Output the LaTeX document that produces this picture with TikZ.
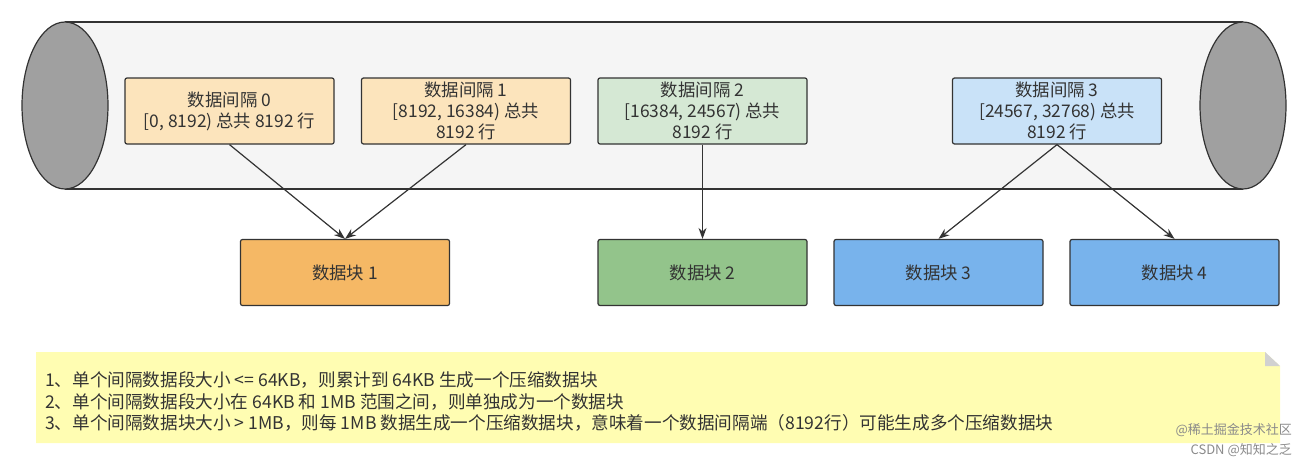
\documentclass[tikz,border=0pt]{standalone}
\usepackage{fontspec}
\setmainfont{Noto Sans CJK SC}
\usetikzlibrary{arrows.meta,shapes.geometric}
\definecolor{txt}{HTML}{333333}
\definecolor{lnc}{HTML}{333333}
\definecolor{cylbody}{HTML}{F5F5F5}
\definecolor{cylend}{HTML}{A0A0A0}
\definecolor{orL}{HTML}{FCE4BC}
\definecolor{grL}{HTML}{D5E8D4}
\definecolor{blL}{HTML}{C9E2F8}
\definecolor{orD}{HTML}{F5B865}
\definecolor{grD}{HTML}{93C48B}
\definecolor{blD}{HTML}{78B3EC}
\definecolor{note}{HTML}{FFFDB2}
\definecolor{wm}{HTML}{8A8A8A}
\begin{document}
\begin{tikzpicture}[x=1pt,y=-1pt,
  box/.style={draw=lnc,line width=1.2pt,rounded corners=2pt,minimum width=209pt,minimum height=66pt,inner sep=0pt,align=center,text=txt,font=\fontsize{17.4}{21}\selectfont},
  arr/.style={-{Stealth[length=11pt,width=8pt]},draw=lnc,line width=1.2pt}]
\useasboundingbox (0,0) rectangle (1308,466);
% cylinder
\path[fill=cylbody] (65,22) rectangle (1243,189);
\draw[lnc,line width=1.2pt] (65,22) -- (1243,22) (65,189) -- (1243,189);
\node[draw=lnc,line width=1.2pt,fill=cylend,ellipse,minimum width=86pt,minimum height=167pt,inner sep=0pt] (lend) at (65,105.5) {};
\node[draw=lnc,line width=1.2pt,fill=cylend,ellipse,minimum width=86pt,minimum height=167pt,inner sep=0pt] (rend) at (1243,105.5) {};
% interval boxes
\node[box,fill=orL] (i0) at (229.5,111) {数据间隔 0\\{}[0, 8192) 总共 8192 行};
\node[box,fill=orL] (i1) at (466,111) {数据间隔 1\\{}[8192, 16384) 总共\\8192 行};
\node[box,fill=grL] (i2) at (702.5,111) {数据间隔 2\\{}[16384, 24567) 总共\\8192 行};
\node[box,fill=blL] (i3) at (1057,111) {数据间隔 3\\{}[24567, 32768) 总共\\8192 行};
% blocks
\node[box,fill=orD] (b1) at (345,272.5) {数据块 1};
\node[box,fill=grD] (b2) at (702.5,272.5) {数据块 2};
\node[box,fill=blD] (b3) at (938.5,272.5) {数据块 3};
\node[box,fill=blD] (b4) at (1174.5,272.5) {数据块 4};
% arrows
\draw[arr] (i0.south) -- (b1.north);
\draw[arr] (i1.south) -- (b1.north);
\draw[arr] (i2.south) -- (b2.north);
\draw[arr] (i3.south) -- (b3.north);
\draw[arr] (i3.south) -- (b4.north);
% note
\fill[note] (36,352) -- (1265,352) -- (1280,366) -- (1280,443) -- (36,443) -- cycle;
\fill[black!18] (1265,352) -- (1280,366) -- (1265,366) -- cycle;
\node[anchor=west,inner sep=0pt,align=left,text=txt,font=\fontsize{17.6}{21.5}\selectfont] (nt) at (45,401.5) {1、单个间隔数据段大小 <= 64KB，则累计到 64KB 生成一个压缩数据块\\2、单个间隔数据段大小在 64KB 和 1MB 范围之间，则单独成为一个数据块\\3、单个间隔数据块大小 > 1MB，则每 1MB 数据生成一个压缩数据块，意味着一个数据间隔端（8192行）可能生成多个压缩数据块};
% watermark
\node[anchor=east,inner sep=0pt,text=wm,font=\fontsize{13}{15}\selectfont] (wm1) at (1292,430) {@稀土掘金技术社区};
\node[anchor=east,inner sep=0pt,text=wm,font=\fontsize{13}{15}\selectfont] (wm2) at (1292,450) {CSDN @知知之乏};
\end{tikzpicture}
\end{document}
